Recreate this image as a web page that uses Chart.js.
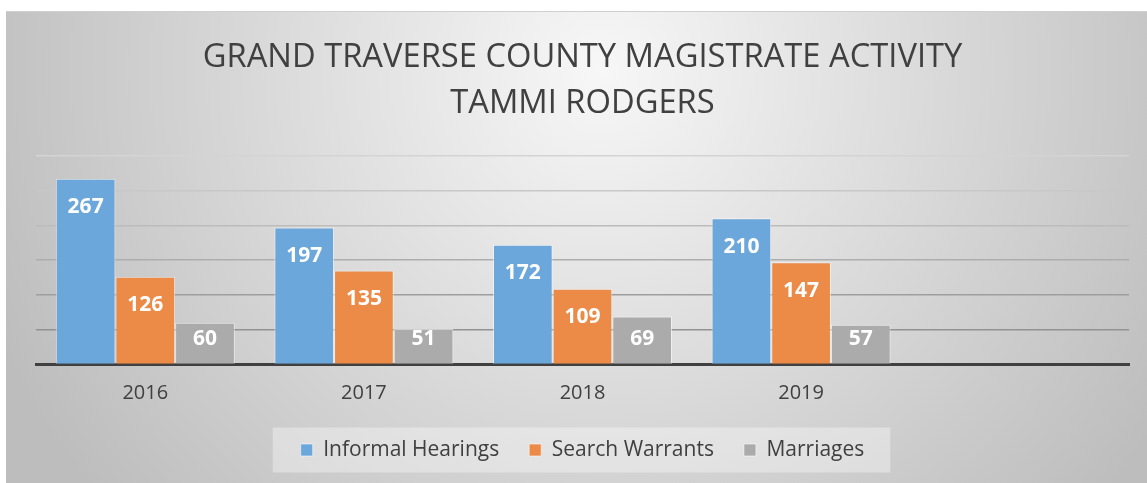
<!DOCTYPE html>
<html>
<head>
<meta charset="utf-8">
<script src="https://cdn.jsdelivr.net/npm/chart.js@4/dist/chart.umd.min.js"></script>
<style>
  html, body { margin: 0; padding: 0; background: #fff; }
  #wrap { width: 1147px; height: 483px; }
</style>
</head>
<body>
<div id="wrap"><canvas id="chart"></canvas></div>
<script>
// data
const years = ['2016', '2017', '2018', '2019', ''];
const informalHearings = [267, 197, 172, 210, null];
const searchWarrants = [126, 135, 109, 147, null];
const marriages = [60, 51, 69, 57, null];

const textColor = '#404040';
const font = 'Open Sans';

// gradient frame + legend panel
const backdrop = {
  id: 'backdrop',
  beforeDraw(chart) {
    const c = chart.ctx;
    c.save();
    c.fillStyle = '#ffffff';
    c.fillRect(0, 0, chart.width, chart.height);
    const g = c.createRadialGradient(600, 70, 0, 600, 70, 660);
    g.addColorStop(0, '#f7f7f7');
    g.addColorStop(1, '#bdbdbd');
    c.fillStyle = g;
    c.fillRect(6, 11, chart.width - 6, chart.height - 11);
    c.strokeStyle = '#d0d0d0';
    c.lineWidth = 1;
    c.beginPath();
    c.moveTo(6, 11.5); c.lineTo(chart.width, 11.5);
    c.stroke();

    const lg = chart.legend;
    if (lg && lg.legendHitBoxes && lg.legendHitBoxes.length) {
      const hb = lg.legendHitBoxes;
      const last = hb[hb.length - 1];
      const cy = hb[0].top + hb[0].height / 2;
      const x0 = hb[0].left - 28;
      c.fillStyle = 'rgba(255,255,255,0.35)';
      c.fillRect(x0, cy - 22.5, last.left + last.width + 26 - x0, 45);
    }
    c.restore();
  }
};

// white value labels near the top of each bar
const barValues = {
  id: 'barValues',
  afterDatasetsDraw(chart) {
    const c = chart.ctx;
    c.save();
    c.fillStyle = '#ffffff';
    c.font = 'bold 21px "' + font + '"';
    c.textAlign = 'center';
    c.textBaseline = 'middle';
    chart.data.datasets.forEach((ds, i) => {
      chart.getDatasetMeta(i).data.forEach((bar, j) => {
        const v = ds.data[j];
        if (v == null) return;
        const y = Math.min(bar.y + 28.5, bar.base - 25);
        c.fillText(String(v), bar.x, y);
      });
    });
    c.restore();
  }
};

const gridShade = { 300: '#d4d4d4', 250: '#c8c8c8', 200: '#bcbcbc', 150: '#adadad', 100: '#9e9e9e', 50: '#929292' };

new Chart(document.getElementById('chart'), {
  type: 'bar',
  data: {
    labels: years,
    datasets: [
      { label: 'Informal Hearings', data: informalHearings, backgroundColor: '#6ca7db', borderColor: 'rgba(255,255,255,0.55)', borderWidth: 1 },
      { label: 'Search Warrants', data: searchWarrants, backgroundColor: '#ec8b48', borderColor: 'rgba(255,255,255,0.55)', borderWidth: 1 },
      { label: 'Marriages', data: marriages, backgroundColor: '#ababab', borderColor: 'rgba(255,255,255,0.55)', borderWidth: 1 }
    ]
  },
  options: {
    responsive: true,
    maintainAspectRatio: false,
    animation: false,
    layout: { padding: { left: 36, right: 18, top: 11, bottom: 12.5 } },
    datasets: { bar: { categoryPercentage: 0.819, barPercentage: 1.0 } },
    scales: {
      x: {
        grid: { display: false, drawTicks: false },
        border: { display: true, color: '#404040', width: 3 },
        ticks: { color: textColor, font: { family: font, size: 20 }, padding: 17 },
        afterFit(scale) { scale.height = 45; }
      },
      y: {
        min: 0,
        max: 300,
        ticks: { stepSize: 50, display: false },
        border: { display: false },
        grid: {
          drawTicks: false,
          lineWidth: 1.5,
          color: (ctx) => gridShade[ctx.tick.value] || 'rgba(0,0,0,0)'
        }
      }
    },
    plugins: {
      title: {
        display: true,
        text: ['GRAND TRAVERSE COUNTY MAGISTRATE ACTIVITY', 'TAMMI RODGERS'],
        color: textColor,
        font: { family: font, size: 32.7, weight: 'normal', lineHeight: 46 / 32.7 },
        padding: { top: 24, bottom: 28.7 }
      },
      legend: {
        position: 'bottom',
        labels: {
          color: textColor,
          font: { family: font, size: 21 },
          boxWidth: 12,
          boxHeight: 12,
          padding: 30
        }
      },
      tooltip: { enabled: false }
    }
  },
  plugins: [backdrop, barValues]
});
</script>
</body>
</html>
